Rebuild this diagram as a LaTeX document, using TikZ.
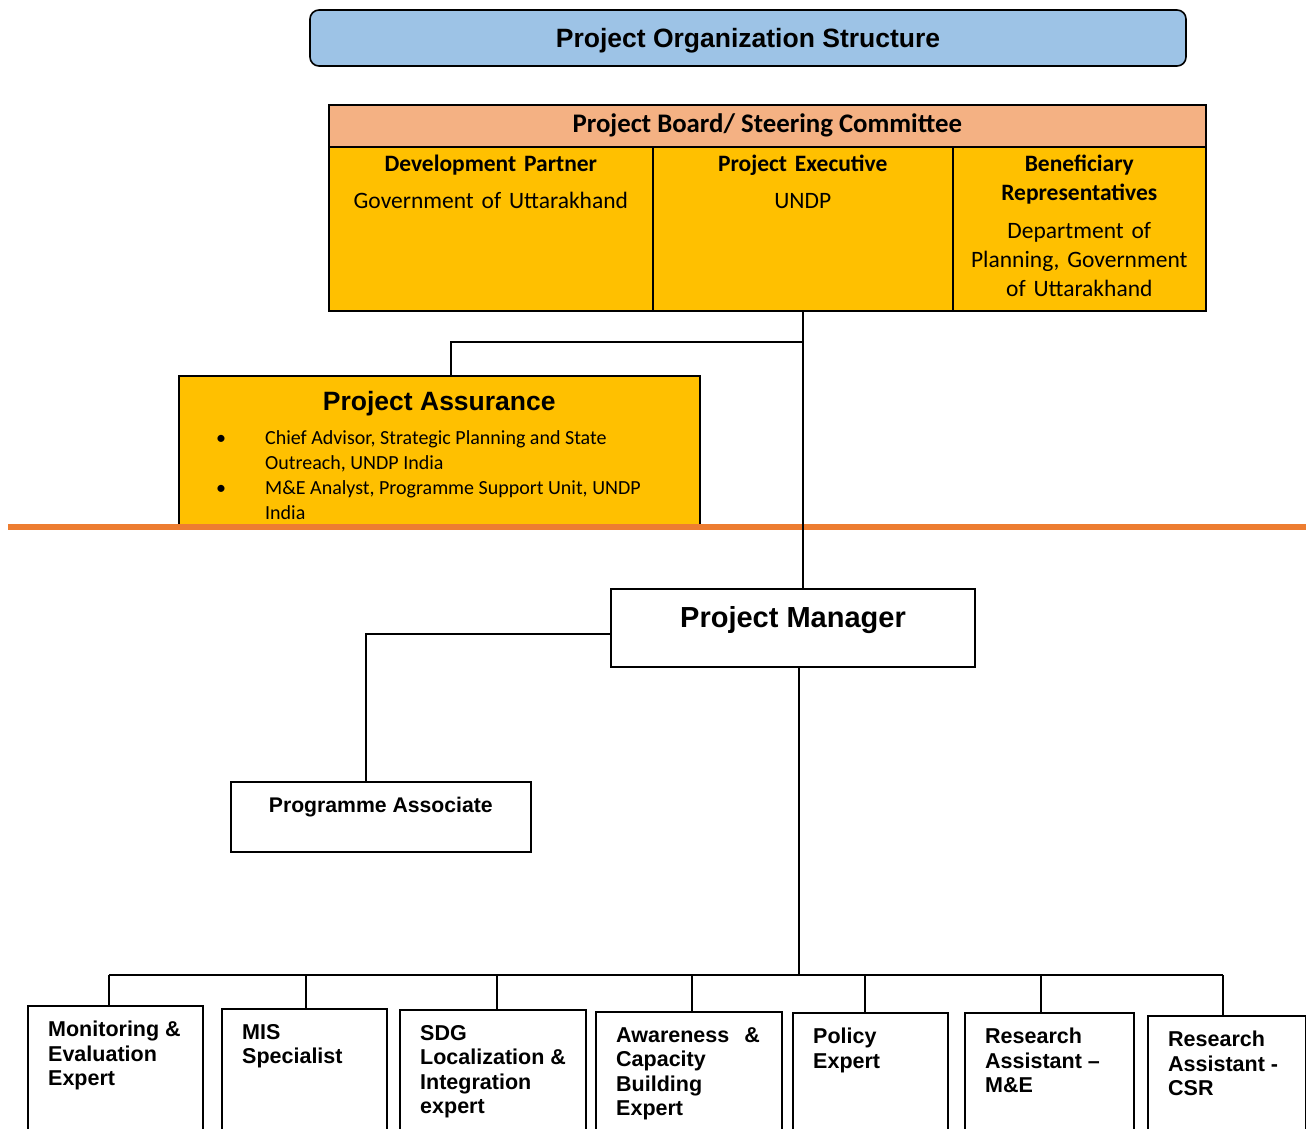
\documentclass[tikz,border=0pt]{standalone}
\usepackage{fontspec}
\setmainfont{Liberation Sans}
\newfontfamily\calibri{Carlito}
\usetikzlibrary{positioning}
\definecolor{headblue}{HTML}{9DC3E6}
\definecolor{boardrose}{HTML}{F4B183}
\definecolor{boardgold}{HTML}{FFC000}
\definecolor{ruleorange}{HTML}{ED7D31}
\begin{document}
\begin{tikzpicture}[x=1pt,y=-1pt,
    box/.style={draw,line width=1.6pt,inner sep=0pt,anchor=north west},
    cell/.style={box,fill=boardgold,minimum height=164pt},
    celltext/.style={font=\calibri\fontsize{23.5}{29}\selectfont,align=center,inner sep=0pt},
    staff/.style={box,minimum width=#1,minimum height=160pt},
    stafftext/.style={font=\bfseries\fontsize{21.5}{24.5}\selectfont,align=left,anchor=north west,inner sep=0pt},
    link/.style={line width=1.5pt}]
\clip (0,0) rectangle (1306,1128);

\node[box,anchor=center,fill=headblue,rounded corners=9pt,minimum width=876pt,minimum height=56pt] (title) at (748,38) {};
\node[font=\bfseries\fontsize{26.5}{30}\selectfont,inner sep=0pt] (titletext) at (748,41) {Project Organization Structure};

% board and its three cells
\node[box,fill=boardrose,minimum width=877pt,minimum height=42pt,
  font=\calibri\bfseries\fontsize{26.8}{29}\selectfont] (board) at (328,104) {Project Board/ Steering Committee};
\node[cell,minimum width=324pt] (dev) at (328,146) {};
\node[cell,minimum width=300pt] (exec) at (652,146) {};
\node[cell,minimum width=253pt] (benef) at (952,146) {};
\node[celltext,text width=310pt,below=9pt of dev.north] (devtext)
  {\textbf{Development Partner}\\[8pt]Government of Uttarakhand};
\node[celltext,text width=290pt,below=9pt of exec.north] (exectext)
  {\textbf{Project Executive}\\[8pt]UNDP};
\node[celltext,text width=245pt,below=9pt of benef.north] (beneftext)
  {\textbf{Beneficiary\\Representatives}\\[9pt]Department of\\Planning, Government\\of Uttarakhand};

\node[box,fill=boardgold,minimum width=521pt,minimum height=152pt] (assur) at (178,375) {};
\node[font=\bfseries\fontsize{26.5}{30}\selectfont,inner sep=0pt,below=16pt of assur.north] (assurtitle) {Project Assurance};
\node[font=\calibri\fontsize{20}{25}\selectfont,align=left,anchor=north west,inner sep=0pt] (assurlist) at (216,430)
  {\makebox[49pt][l]{\textbullet}Chief Advisor, Strategic Planning and State\\
   \hspace*{49pt}Outreach, UNDP India\\
   \makebox[49pt][l]{\textbullet}M\&E Analyst, Programme Support Unit, UNDP\\
   \hspace*{49pt}India};

\draw[ruleorange,line width=6pt] (8,527) -- (1306,527);

\node[box,anchor=center,minimum width=364pt,minimum height=78pt] (pm) at (793,628) {};
\node[font=\bfseries\fontsize{29}{32}\selectfont,inner sep=0pt,below=18pt of pm.north] (pmtext) {Project Manager};
\node[box,minimum width=300pt,minimum height=70pt] (prog) at (230,781) {};
\node[font=\bfseries\fontsize{21.2}{24}\selectfont,inner sep=0pt,below=16pt of prog.north] (progtext) {Programme Associate};

\coordinate (assurfork) at (451,342);
\coordinate (bus) at (799,975);
\draw[link] (exec.south) -- (exec.south |- pm.north);
\draw[link] (exec.south |- assurfork) -- (assurfork) -- (assurfork |- assur.north);
\draw[link] ([yshift=-6pt]pm.west) -| ([xshift=-15pt]prog.north);
\draw[link] (bus |- pm.south) -- (bus);

% team under the project manager
\foreach \n/\xl/\yt/\w/\dx/\txt in {
    me/27/1005/175/-6.5/{Monitoring \&\\Evaluation\\Expert},
    mis/221/1008/165/1.5/{MIS\\Specialist},
    sdg/399/1009/186/4/{SDG\\Localization \&\\Integration\\expert},
    acb/595/1011/186/3/{Awareness\hspace{15pt}\&\\Capacity\\Building\\Expert},
    pol/792/1012/155/-5.5/{Policy\\Expert},
    rame/964/1012/169/-8.5/{Research\\Assistant --\\M\&E},
    racsr/1147/1015/158/-4/{Research\\Assistant -\\CSR}}
{
  \node[staff=\w pt] (\n) at (\xl,\yt) {};
  \node[stafftext] (\n text) at ([xshift=21pt,yshift=-16pt]\n.north west) {\txt};
  \draw[link] ([xshift=\dx pt]\n.north |- bus) -- ([xshift=\dx pt]\n.north);
}
\draw[link] ([xshift=-6.5pt]me.north |- bus) -- ([xshift=-4pt]racsr.north |- bus);
\end{tikzpicture}
\end{document}
